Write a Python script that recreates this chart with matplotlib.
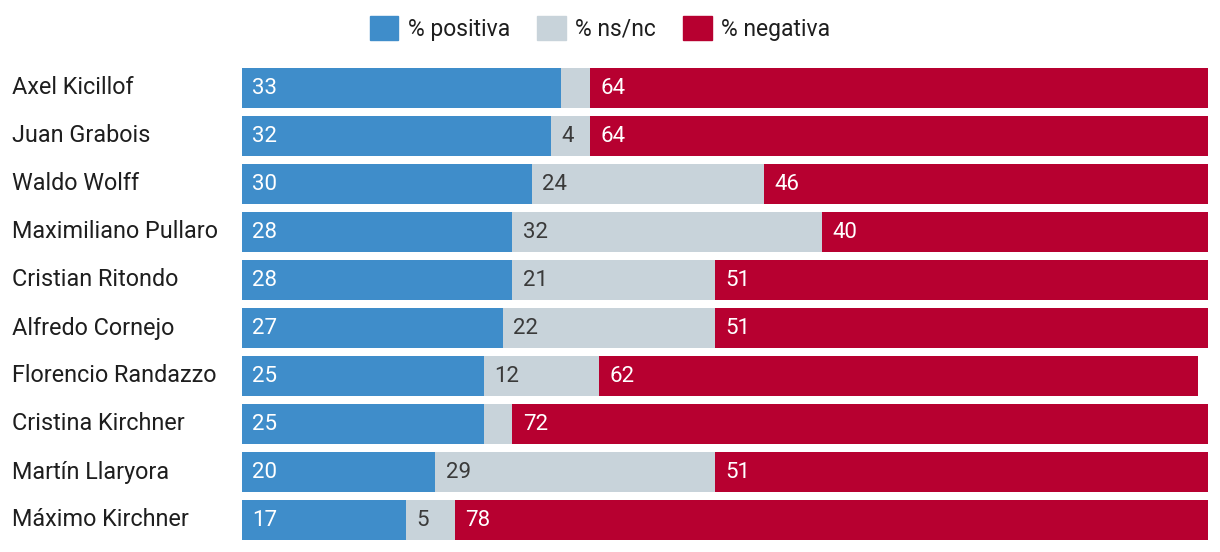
import matplotlib.pyplot as plt
from matplotlib.patches import Patch
from matplotlib.transforms import blended_transform_factory

names = ["Axel Kicillof", "Juan Grabois", "Waldo Wolff", "Maximiliano Pullaro",
         "Cristian Ritondo", "Alfredo Cornejo", "Florencio Randazzo",
         "Cristina Kirchner", "Martín Llaryora", "Máximo Kirchner"]
positiva = [33, 32, 30, 28, 28, 27, 25, 25, 20, 17]
nsnc = [3, 4, 24, 32, 21, 22, 12, 3, 29, 5]
negativa = [64, 64, 46, 40, 51, 51, 62, 72, 51, 78]

blue = "#3f8dca"
grey = "#c8d3da"
red = "#b70030"

plt.rcParams['font.family'] = ['Roboto', 'DejaVu Sans']

fig = plt.figure(figsize=(12.2, 5.52), dpi=100)
ax = fig.add_axes([242/1220, 8/552, 966/1220, 480/552])

ys = list(range(len(names)))
h = 0.833
ax.barh(ys, positiva, height=h, color=blue)
left2 = positiva
ax.barh(ys, nsnc, left=left2, height=h, color=grey)
left3 = [a + b for a, b in zip(positiva, nsnc)]
ax.barh(ys, negativa, left=left3, height=h, color=red)

for i in ys:
    segs = [(0, positiva[i], "white"), (left2[i], nsnc[i], "#3a3a3a"), (left3[i], negativa[i], "white")]
    for start, val, col in segs:
        if val < 4:
            continue
        ax.annotate(str(val), (start, i), xytext=(7.5, 0), textcoords="offset points",
                    ha="left", va="center", color=col, fontsize=16)

trans = blended_transform_factory(fig.transFigure, ax.transData)
for i, n in enumerate(names):
    ax.text(12/1220, i, n, transform=trans, ha="left", va="center", fontsize=16.8, color="#1e1e1e")

ax.set_xlim(0, 100)
ax.set_ylim(9.5, -0.5)
ax.axis("off")

handles = [Patch(color=blue, label="% positiva"), Patch(color=grey, label="% ns/nc"),
           Patch(color=red, label="% negativa")]
fig.legend(handles=handles, loc="upper center", bbox_to_anchor=(600/1220, 1.0), ncol=3,
           frameon=False, fontsize=16.5, handlelength=1.25, handleheight=1.25,
           handletextpad=0.4, columnspacing=1.2, borderaxespad=0.3,
           labelcolor="#1e1e1e")

fig.savefig("out.png", dpi=100)
